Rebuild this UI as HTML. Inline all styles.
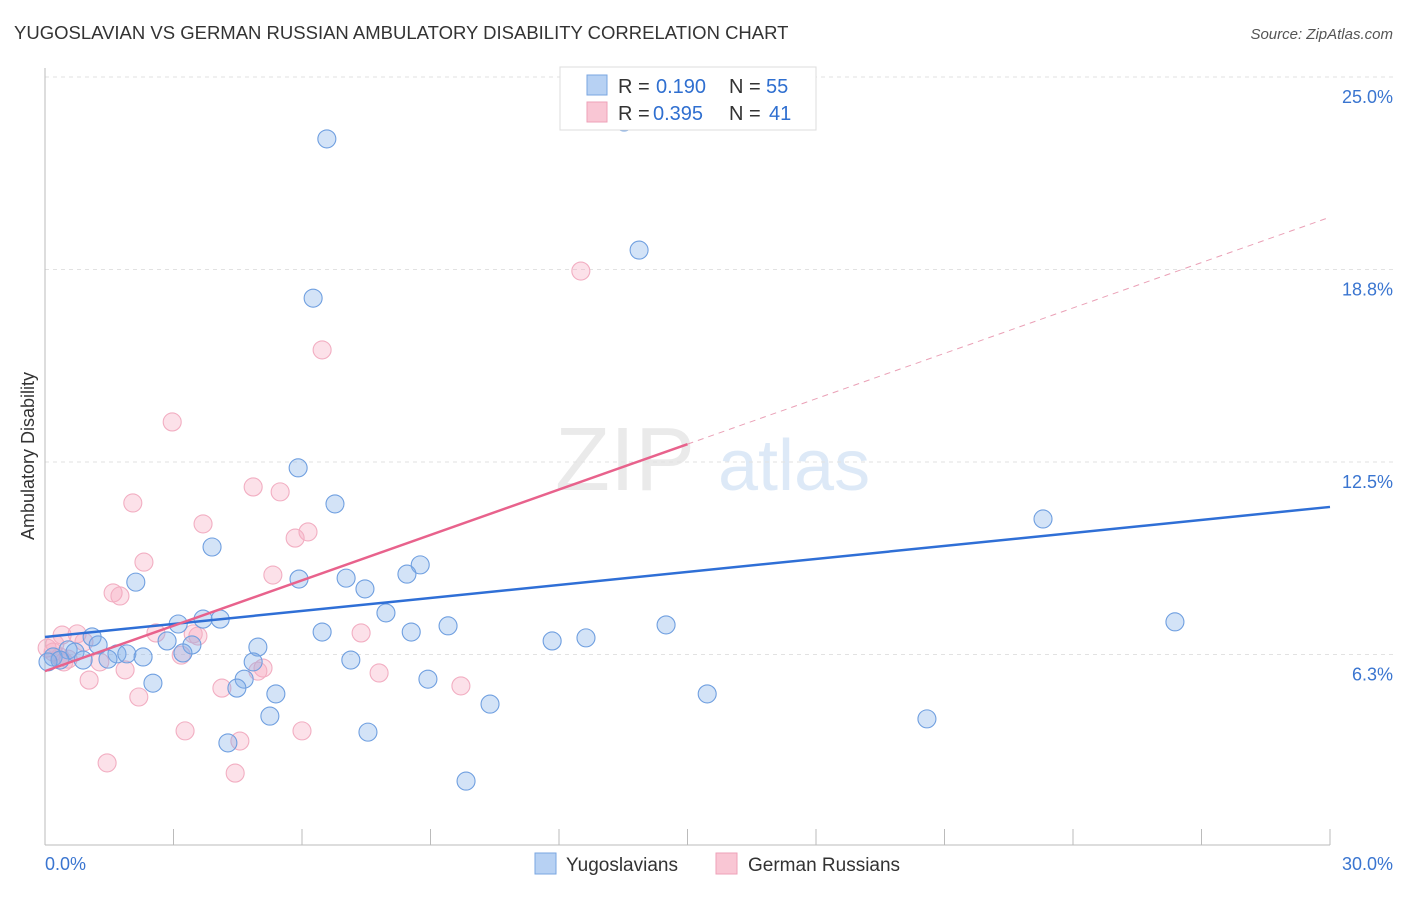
<!DOCTYPE html>
<html><head><meta charset="utf-8"><style>
body{margin:0;background:#fff;font-family:"Liberation Sans",sans-serif}
svg text{font-family:"Liberation Sans",sans-serif}
</style></head><body>
<svg id="chart" width="1406" height="892" viewBox="0 0 1406 892">
<text x="14" y="39" font-size="18.5" fill="#333">YUGOSLAVIAN VS GERMAN RUSSIAN AMBULATORY DISABILITY CORRELATION CHART</text>
<text x="1393" y="39" font-size="15" fill="#555" text-anchor="end" font-style="italic">Source: ZipAtlas.com</text>
<g><text x="555" y="490" font-size="90" fill="#ddd" font-family="Liberation Serif" opacity="0.6">ZIP</text><text x="718" y="490" font-size="72" fill="#c8dcf2" opacity="0.6">atlas</text></g>
<g id="grid"></g><g id="axes"></g><g id="marks"></g>
<text transform="translate(34,456) rotate(-90)" font-size="18" fill="#333" text-anchor="middle">Ambulatory Disability</text>
<text x="45" y="870" font-size="18" fill="#3a75d0">0.0%</text>
<text x="1393" y="870" font-size="18" fill="#3a75d0" text-anchor="end">30.0%</text>
<g>
<rect x="560" y="67" width="256" height="63" fill="#fff" stroke="#ddd"/>
<rect x="587" y="75" width="20" height="20" fill="#b7d1f3" stroke="#7aa6e0"/>
<rect x="587" y="102" width="20" height="20" fill="#f9c6d4" stroke="#eea1b8"/>
<text x="618" y="93" font-size="20" fill="#333">R =</text><text x="656" y="93" font-size="20" fill="#2f6fd0">0.190</text>
<text x="729" y="93" font-size="20" fill="#333">N =</text><text x="766" y="93" font-size="20" fill="#2f6fd0">55</text>
<text x="618" y="120" font-size="20" fill="#333">R =</text><text x="653" y="120" font-size="20" fill="#2f6fd0">0.395</text>
<text x="729" y="120" font-size="20" fill="#333">N =</text><text x="769" y="120" font-size="20" fill="#2f6fd0">41</text>
</g>
<g>
<rect x="535" y="853" width="21" height="21" fill="#b7d1f3" stroke="#7aa6e0"/>
<text x="566" y="871" font-size="19" fill="#333">Yugoslavians</text>
<rect x="716" y="853" width="21" height="21" fill="#f9c6d4" stroke="#eea1b8"/>
<text x="748" y="871" font-size="19" fill="#333">German Russians</text>
</g>
</svg>
<script>
const yTicks=[6.25,12.5,18.75,25];
const yTickLabels=["6.3%","12.5%","18.8%","25.0%"];
const xTicks=[3,6,9,12,15,18,21,24,27,30];
const blueX=[6.58,13.87,6.26,5.91,6.77,23.30,3.90,8.76,8.45,2.12,5.93,7.03,7.47,7.96,3.69,4.09,3.11,26.38,9.41,14.50,6.47,8.55,12.63,11.84,1.10,2.85,3.43,4.97,1.24,0.54,0.70,1.68,1.91,2.29,1.47,3.22,0.19,0.35,0.89,7.14,4.86,0.07,4.65,8.94,2.52,4.48,5.39,15.46,10.39,5.25,20.59,7.54,4.27,9.83,13.52];
const blueY=[22.99,19.38,17.82,12.31,11.14,10.65,9.74,9.16,8.86,8.60,8.70,8.73,8.38,7.60,7.40,7.40,7.24,7.31,7.18,7.21,6.98,6.98,6.79,6.69,6.82,6.69,6.56,6.49,6.56,6.40,6.33,6.27,6.27,6.17,6.10,6.30,6.17,6.07,6.07,6.07,6.01,6.01,5.45,5.45,5.32,5.16,4.97,4.97,4.64,4.25,4.16,3.73,3.38,2.14,23.54];
const pinkX=[12.51,6.47,2.97,4.86,5.49,2.05,3.69,6.14,5.84,2.31,5.32,1.59,1.75,2.59,7.38,0.75,3.57,3.46,0.40,0.05,0.19,0.91,0.54,1.28,0.44,1.87,3.18,5.09,4.97,7.80,1.03,9.71,4.13,2.19,3.27,6.00,4.55,1.45,4.44,0.23,0.35];
const pinkY=[18.70,16.14,13.80,11.69,11.53,11.17,10.49,10.23,10.03,9.25,8.83,8.25,8.15,6.95,6.95,6.92,6.85,6.92,6.88,6.46,6.33,6.66,6.10,6.01,6.01,5.75,6.23,5.81,5.71,5.65,5.42,5.23,5.16,4.87,3.77,3.77,3.44,2.73,2.40,6.59,6.17];
const blueTrend=[6.82,0.1407];
const pinkTrend=[5.71,0.4913];
const NS="http://www.w3.org/2000/svg";
const X=v=>45+v*42.833, Y=v=>847-v*30.8;
function mk(tag,attrs,parent){const e=document.createElementNS(NS,tag);for(const k in attrs)e.setAttribute(k,attrs[k]);parent.appendChild(e);return e;}
const grid=document.getElementById('grid'),axes=document.getElementById('axes'),marks=document.getElementById('marks');
yTicks.forEach((t,i)=>{
 const l=mk('line',{x1:45,x2:1393,y1:Y(t),y2:Y(t),stroke:'#e2e2e2','stroke-dasharray':'4,4'},grid);
 
 
 const tx=mk('text',{x:1393,y:Y(t)+26,'font-size':18,fill:'#3a75d0','text-anchor':'end'},grid);
 tx.textContent=yTickLabels[i];
 
 
});
const ya=mk('line',{x1:45,x2:45,y1:68,y2:845,stroke:'#bbb'},axes);


const xa=mk('line',{x1:45,x2:1330,y1:845,y2:845,stroke:'#bbb'},axes);


xTicks.forEach(t=>{
 const l=mk('line',{x1:X(t),x2:X(t),y1:829,y2:845,stroke:'#bbb'},axes);
 
 
});
function dots(xs,ys,fill,stroke,name){
 xs.forEach((x,i)=>{
  const c=mk('circle',{cx:X(x),cy:Y(ys[i]),r:9,fill:fill,stroke:stroke,'stroke-width':1.1},marks);
  
  
 });
}
dots(pinkX,pinkY,'rgba(246,170,192,0.35)','#f2aec2','german-russian-point');
dots(blueX,blueY,'rgba(130,175,232,0.35)','#6f9fe0','yugoslavian-point');
const bl=mk('line',{x1:X(0),y1:Y(blueTrend[0]),x2:X(30),y2:Y(blueTrend[0]+30*blueTrend[1]),stroke:'#2f6fd6','stroke-width':2.5},marks);


const pl=mk('line',{x1:X(0),y1:Y(pinkTrend[0]),x2:X(15),y2:Y(pinkTrend[0]+15*pinkTrend[1]),stroke:'#e8628c','stroke-width':2.5},marks);


const pd=mk('line',{x1:X(15),y1:Y(pinkTrend[0]+15*pinkTrend[1]),x2:X(30),y2:Y(pinkTrend[0]+30*pinkTrend[1]),stroke:'#eaa0b6','stroke-width':1,'stroke-dasharray':'6,5'},marks);


</script>
</body></html>
